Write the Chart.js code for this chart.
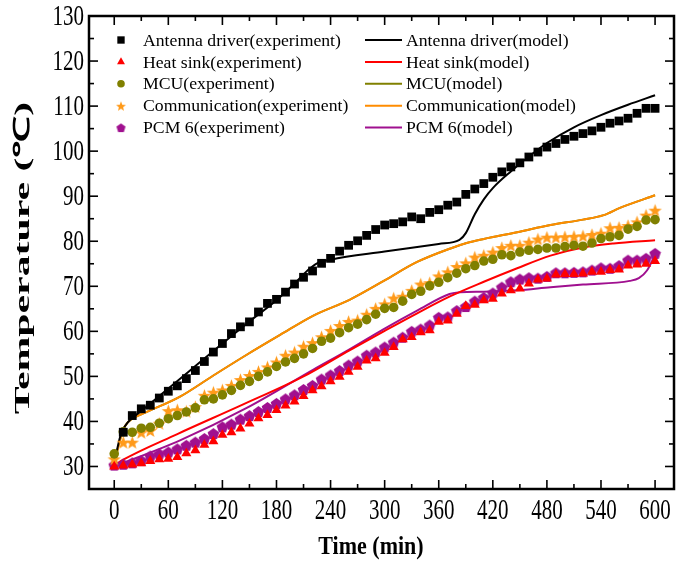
<!DOCTYPE html>
<html>
<head>
<meta charset="utf-8">
<script src="https://cdn.jsdelivr.net/npm/chart.js@4.4.0/dist/chart.umd.min.js"></script>
<style>
  html, body { margin: 0; padding: 0; background: #fff; }
</style>
</head>
<body>
<canvas id="chart" width="690" height="562"></canvas>
<script>
// measured every 10 min
const expTime = [0, 10, 20, 30, 40, 50, 60, 70, 80, 90, 100, 110, 120, 130, 140, 150, 160, 170, 180, 190,
  200, 210, 220, 230, 240, 250, 260, 270, 280, 290, 300, 310, 320, 330, 340, 350, 360, 370, 380, 390,
  400, 410, 420, 430, 440, 450, 460, 470, 480, 490, 500, 510, 520, 530, 540, 550, 560, 570, 580, 590, 600];

const antennaExp = [null, 37.6, 41.3, 42.8, 43.6, 45.2, 46.7, 47.9, 49.5, 51.3,
  53.3, 55.4, 57.3, 59.5, 61.0, 62.1, 64.3, 66.2, 67.1, 68.7,
  70.5, 72.0, 73.4, 75.1, 76.2, 77.8, 79.1, 80.1, 81.3, 82.6,
  83.6, 83.9, 84.3, 85.4, 85.0, 86.4, 87.0, 88.0, 88.7, 90.4,
  91.6, 92.8, 94.2, 95.4, 96.5, 97.4, 98.7, 99.8, 100.9, 101.7,
  102.6, 103.3, 103.9, 104.5, 105.3, 106.2, 106.7, 107.3, 108.4, 109.5, 109.5];

const heatSinkExp = [30.0, 30.2, 30.4, 30.7, 31.2, 31.6, 31.7, 32.1, 32.9, 33.6,
  34.8, 35.6, 37.0, 37.6, 38.4, 39.5, 40.7, 41.4, 42.5, 43.5,
  44.4, 45.6, 46.9, 47.8, 48.9, 49.9, 51.0, 52.1, 53.5, 54.0,
  55.2, 56.5, 58.2, 58.7, 59.8, 60.2, 62.1, 62.4, 63.9, 65.6,
  65.9, 66.9, 67.2, 68.4, 69.1, 69.5, 70.6, 71.5, 71.7, 72.6,
  72.7, 72.7, 72.8, 73.2, 73.2, 73.6, 73.7, 74.6, 74.8, 75.0, 75.6];

const mcuExp = [32.8, 37.7, 37.6, 38.5, 38.7, 39.6, 40.6, 41.3, 42.1, 43.0,
  44.8, 45.0, 45.9, 46.9, 48.0, 48.9, 50.0, 51.0, 52.2, 53.2,
  54.0, 55.0, 56.2, 57.8, 58.5, 59.7, 60.8, 61.6, 62.6, 63.8,
  65.1, 65.3, 66.7, 68.2, 68.9, 70.1, 70.9, 71.9, 72.9, 73.9,
  74.6, 75.6, 76.0, 77.0, 76.8, 77.6, 78.0, 78.2, 78.5, 78.5,
  78.8, 79.1, 78.9, 79.6, 80.6, 81.0, 81.3, 82.7, 83.3, 84.7, 84.8];

const commExp = [31.7, 35.4, 35.4, 37.6, 38.0, 39.6, 42.4, 42.6, 42.3, 43.3,
  45.8, 46.5, 47.0, 48.0, 49.3, 50.2, 51.1, 52.1, 53.2, 54.7,
  55.4, 56.7, 57.5, 58.8, 60.2, 61.3, 62.2, 62.5, 63.8, 65.1,
  66.1, 67.4, 67.8, 69.1, 70.5, 70.8, 72.3, 73.2, 74.4, 75.2,
  76.5, 76.9, 77.6, 78.6, 79.1, 79.1, 79.8, 80.5, 80.9, 80.9,
  81.0, 81.1, 81.2, 81.5, 81.8, 83.0, 83.1, 83.5, 84.3, 85.8, 86.9];

const pcmExp = [30.3, 30.5, 30.8, 31.3, 32.3, 32.8, 33.2, 33.9, 34.7, 35.4,
  36.2, 37.3, 38.8, 39.4, 40.5, 41.3, 42.2, 43.1, 44.0, 45.0,
  45.9, 47.1, 48.0, 49.4, 50.3, 51.3, 52.5, 53.4, 54.7, 55.4,
  56.5, 57.6, 58.7, 60.0, 60.5, 61.4, 63.1, 63.2, 64.6, 65.5,
  66.7, 67.5, 68.5, 69.8, 71.0, 71.6, 71.9, 71.8, 72.2, 73.0,
  73.0, 73.1, 73.2, 73.6, 74.1, 74.0, 74.6, 75.8, 75.8, 76.2, 77.3];

// model curves
const antennaModelTime = [0, 4, 8, 15, 30, 60, 90, 120, 150, 180, 200, 215, 225, 240, 300, 360, 383, 390, 400, 410, 420, 440, 460, 480, 510, 540, 570, 600];
const antennaModelTemp = [30.5, 34.5, 37.5, 39.8, 42.3, 47.3, 52.3, 57.3, 62.2, 66.9, 70.6, 73.6, 75.1, 75.9, 77.7, 79.4, 80.3, 81.8, 86.0, 89.3, 91.8, 95.5, 98.8, 101.8, 105.3, 108.0, 110.3, 112.4];

const heatModelTime = [0, 10, 70, 140, 210, 261, 299, 336, 373, 410, 447, 484, 520, 554, 600];
const heatModelTemp = [30.2, 31.5, 37.2, 43.5, 50.0, 55.8, 60.0, 64.0, 67.8, 71.0, 74.0, 76.8, 78.6, 79.5, 80.2];

// the MCU model lies under the communication model
const commModelTime = [0, 4, 8, 12, 20, 35, 73, 110, 147, 184, 221, 261, 299, 336, 373, 391, 410, 447, 484, 520, 543, 561, 600];
const commModelTemp = [30.0, 34.0, 37.0, 39.0, 40.6, 42.0, 45.5, 50.2, 54.8, 59.2, 63.5, 67.0, 71.2, 75.4, 78.4, 79.6, 80.5, 82.0, 83.6, 84.8, 85.8, 87.4, 90.2];
const mcuModelTemp = [30.0, 34.0, 37.0, 39.0, 40.6, 42.0, 45.5, 50.2, 54.8, 59.2, 63.5, 67.0, 71.2, 75.4, 78.4, 79.6, 80.5, 82.0, 83.6, 84.8, 85.8, 87.4, 90.2];

const pcmModelTime = [0, 73, 147, 221, 261, 299, 336, 372, 384, 410, 447, 484, 520, 572, 582, 591, 600];
const pcmModelTemp = [30.0, 35.8, 43.0, 51.5, 56.0, 60.5, 64.6, 68.3, 68.7, 68.8, 69.1, 69.8, 70.4, 71.2, 71.8, 73.5, 77.0];

const xTickLabels = [0, 60, 120, 180, 240, 300, 360, 420, 480, 540, 600];
const yTickLabels = [30, 40, 50, 60, 70, 80, 90, 100, 110, 120, 130];

const BLACK = '#000000', RED = '#ff0000', OLIVE = '#808000', ORANGE = '#ff8c00', PURPLE = '#a0108f';
const SERIF = '"Liberation Serif", "Times New Roman", serif';

function polyCanvas(color, size, pts) {
  const c = document.createElement('canvas');
  c.width = size; c.height = size;
  const g = c.getContext('2d');
  g.fillStyle = color;
  g.beginPath();
  pts.forEach((p, i) => i ? g.lineTo(p[0], p[1]) : g.moveTo(p[0], p[1]));
  g.closePath();
  g.fill();
  return c;
}
function starPoints(size, outer, inner) {
  const pts = [];
  for (let i = 0; i < 10; i++) {
    const r = i % 2 ? inner : outer;
    const a = -Math.PI / 2 + i * Math.PI / 5;
    pts.push([size / 2 + r * Math.cos(a), size / 2 + 0.8 + r * Math.sin(a)]);
  }
  return pts;
}
function pentaPoints(size, r) {
  const pts = [];
  for (let i = 0; i < 5; i++) {
    const a = -Math.PI / 2 + i * 2 * Math.PI / 5;
    pts.push([size / 2 + r * Math.cos(a), size / 2 + 0.6 + r * Math.sin(a)]);
  }
  return pts;
}
const starImg = polyCanvas('#ff9a1a', 15, starPoints(15, 7, 2.9));
const pentaImg = polyCanvas(PURPLE, 13, pentaPoints(13, 6.1));
const starSmall = polyCanvas('#ff9a1a', 12, starPoints(12, 5.2, 2.2));
const pentaSmall = polyCanvas(PURPLE, 11, pentaPoints(11, 4.8));

const pairs = (xs, ys) => xs.map((x, i) => ({ x: x, y: ys[i] }));

const expSets = [
  { label: 'Antenna driver(experiment)', data: pairs(expTime, antennaExp), color: BLACK, pointStyle: 'rect', radius: 6.2, legendStyle: 'rect', legendRadius: 5.2 },
  { label: 'Heat sink(experiment)', data: pairs(expTime, heatSinkExp), color: RED, pointStyle: 'triangle', radius: 5.8, legendStyle: 'triangle', legendRadius: 4.6 },
  { label: 'MCU(experiment)', data: pairs(expTime, mcuExp), color: OLIVE, pointStyle: 'circle', radius: 4.8, legendStyle: 'circle', legendRadius: 3.8 },
  { label: 'Communication(experiment)', data: pairs(expTime, commExp), color: ORANGE, pointStyle: starImg, radius: 7, legendStyle: starSmall, legendRadius: 6 },
  { label: 'PCM 6(experiment)', data: pairs(expTime, pcmExp), color: PURPLE, pointStyle: pentaImg, radius: 6.5, legendStyle: pentaSmall, legendRadius: 5.5 }
];
const modelSets = [
  { label: 'Antenna driver(model)', data: pairs(antennaModelTime, antennaModelTemp), color: BLACK },
  { label: 'Heat sink(model)', data: pairs(heatModelTime, heatModelTemp), color: RED },
  { label: 'MCU(model)', data: pairs(commModelTime, mcuModelTemp), color: OLIVE },
  { label: 'Communication(model)', data: pairs(commModelTime, commModelTemp), color: ORANGE },
  { label: 'PCM 6(model)', data: pairs(pcmModelTime, pcmModelTemp), color: PURPLE }
];

const datasets = [];
expSets.forEach(s => datasets.push({
  type: 'line', label: s.label, data: s.data, showLine: false,
  pointStyle: s.pointStyle, pointRadius: s.radius, pointBackgroundColor: s.color,
  pointBorderWidth: 0, borderColor: s.color
}));
// orange model is drawn over the olive one
[0, 1, 3, 2, 4].forEach(i => {
  const s = modelSets[i];
  datasets.push({
    type: 'line', label: s.label, data: s.data, borderColor: s.color, borderWidth: 2,
    pointRadius: 0, cubicInterpolationMode: 'monotone', fill: false
  });
});

// text stretched like the figure's tall glyphs
function tallText(ctx, text, x, y, sx, sy, align, rotate) {
  ctx.save();
  ctx.translate(x, y);
  if (rotate) ctx.rotate(-Math.PI / 2);
  ctx.scale(sx, sy);
  ctx.textAlign = align;
  ctx.textBaseline = 'middle';
  ctx.fillText(text, 0, 0);
  ctx.restore();
}

const framePlugin = {
  id: 'frame',
  afterDatasetsDraw(chart) {
    const { ctx, chartArea: a, scales: { x, y } } = chart;
    ctx.save();
    ctx.strokeStyle = '#000';
    ctx.lineWidth = 1.6;
    const seg = (x1, y1, x2, y2) => { ctx.beginPath(); ctx.moveTo(x1, y1); ctx.lineTo(x2, y2); ctx.stroke(); };
    const MAJ = 9, MIN = 5;
    xTickLabels.forEach((v, i) => {
      const px = x.getPixelForValue(v);
      seg(px, a.bottom, px, a.bottom - MAJ);
      seg(px, a.top, px, a.top + MAJ);
      if (i < xTickLabels.length - 1) {
        const mx = x.getPixelForValue((v + xTickLabels[i + 1]) / 2);
        seg(mx, a.bottom, mx, a.bottom - MIN);
        seg(mx, a.top, mx, a.top + MIN);
      }
    });
    yTickLabels.forEach((v, i) => {
      const py = y.getPixelForValue(v);
      seg(a.left, py, a.left + MAJ, py);
      seg(a.right, py, a.right - MAJ, py);
      if (i < yTickLabels.length - 1) {
        const my = y.getPixelForValue((v + yTickLabels[i + 1]) / 2);
        seg(a.left, my, a.left + MIN, my);
        seg(a.right, my, a.right - MIN, my);
      }
    });
    ctx.lineWidth = 2.5;
    ctx.strokeRect(a.left, a.top, a.right - a.left, a.bottom - a.top);

    // tick labels and axis titles
    ctx.fillStyle = '#000';
    ctx.font = '21px ' + SERIF;
    xTickLabels.forEach(v => tallText(ctx, String(v), x.getPixelForValue(v), a.bottom + 22, 1, 1.4, 'center'));
    yTickLabels.forEach(v => tallText(ctx, String(v), a.left - 5, y.getPixelForValue(v) + 1, 1, 1.4, 'right'));
    ctx.font = 'bold 22px ' + SERIF;
    tallText(ctx, 'Time (min)', 371, 548, 1, 1.1, 'center');
    tallText(ctx, 'Temperature (℃)', 23, 258, 1.9, 1, 'center', true);

    // legend, two columns
    ctx.font = '17.7px ' + SERIF;
    ctx.textBaseline = 'middle';
    ctx.textAlign = 'left';
    const rowY = 40, rowH = 21.9;
    expSets.forEach((s, i) => {
      const yy = rowY + i * rowH;
      ctx.fillStyle = s.color;
      Chart.helpers.drawPoint(ctx, { pointStyle: s.legendStyle, radius: s.legendRadius, rotation: 0, borderWidth: 0 }, 121, yy);
      ctx.fillStyle = '#000';
      ctx.fillText(s.label, 143, yy + 1);
    });
    modelSets.forEach((s, i) => {
      const yy = rowY + i * rowH;
      ctx.strokeStyle = s.color;
      ctx.lineWidth = 2;
      seg(365, yy, 402, yy);
      ctx.fillStyle = '#000';
      ctx.fillText(s.label, 406, yy + 1);
    });
    ctx.restore();
  }
};

new Chart(document.getElementById('chart'), {
  type: 'line',
  data: { datasets: datasets },
  plugins: [framePlugin],
  options: {
    responsive: false,
    animation: false,
    devicePixelRatio: 1,
    layout: { padding: { top: 16, right: 16, left: 0, bottom: 0 } },
    plugins: { legend: { display: false }, tooltip: { enabled: false } },
    scales: {
      x: {
        type: 'linear', min: -28, max: 621,
        afterBuildTicks: s => { s.ticks = xTickLabels.map(v => ({ value: v })); },
        afterFit: s => { s.height = 73; },
        grid: { display: false }, border: { display: false },
        ticks: { display: false },
        title: { display: false, text: 'Time (min)' }
      },
      y: {
        type: 'linear', min: 25, max: 130,
        afterBuildTicks: s => { s.ticks = yTickLabels.map(v => ({ value: v })); },
        afterFit: s => { s.width = 89; },
        grid: { display: false }, border: { display: false },
        ticks: { display: false },
        title: { display: false, text: 'Temperature (℃)' }
      }
    }
  }
});
</script>
</body>
</html>
